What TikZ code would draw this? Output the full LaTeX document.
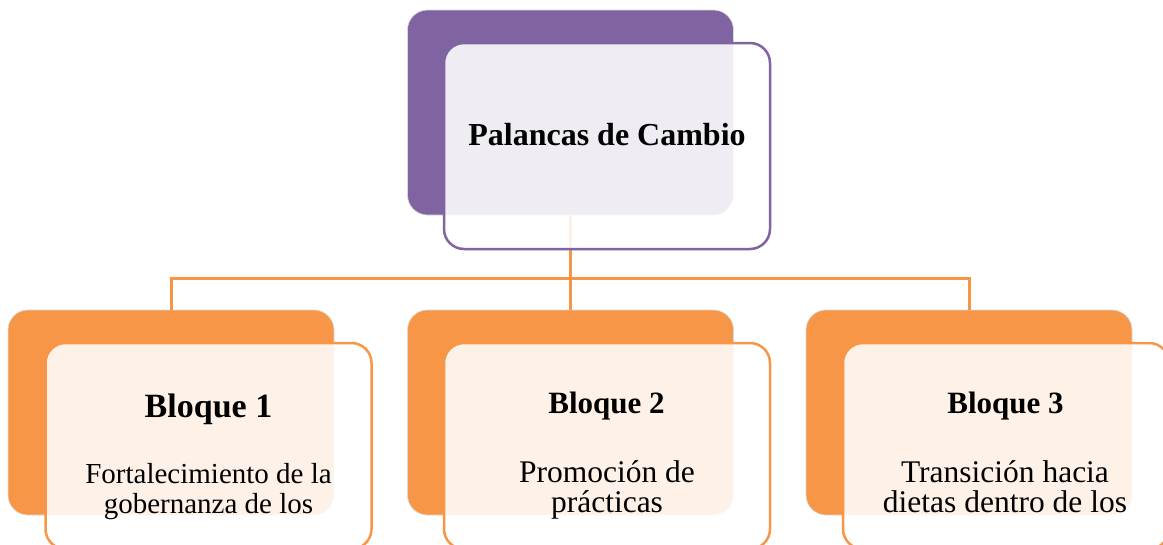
\documentclass[tikz,border=0pt]{standalone}
\usepackage{fontspec}
\setmainfont{Liberation Serif}
\usepackage{tikz}
\usetikzlibrary{positioning}
\definecolor{palpurple}{HTML}{8064A2}
\definecolor{palorange}{HTML}{F79646}
\tikzset{backbox/.style = {rounded corners = 20pt, inner sep = 0,
                           minimum width = 326pt, minimum height = 205pt,
                           draw = gray!30, line width = 0.6pt}}
\tikzset{frontbox/.style = {rounded corners = 20pt, inner sep = 0,
                            minimum width = 326pt, minimum height = 206pt,
                            fill = white, fill opacity = 0.88, line width = 2.5pt}}
\tikzset{link/.style = {palorange, line width = 3pt}}
\tikzset{headtxt/.style = {inner sep = 0, anchor = base,
                           font = \bfseries\fontsize{#1}{#1}\selectfont}}
\tikzset{bodytxt/.style = {inner sep = 0, anchor = north, align = center,
                           font = \fontsize{#1}{30}\selectfont}}

\begin{document}
\begin{tikzpicture}[x = 1pt, y = -1pt]
  \useasboundingbox (0, 0) rectangle (1163, 544);

  \node [backbox, fill = palpurple] (top) at (570.5, 112.5) {};
  \node [backbox, fill = palorange] (blk1) at (171, 412.5) {};
  \node [backbox, fill = palorange] (blk2) at (570.5, 412.5) {};
  \node [backbox, fill = palorange] (blk3) at (969, 412.5) {};

  \coordinate (hub) at (570.5, 278);
  \draw [link] (top.south) -- (hub);
  \draw [link] (hub) -| (blk1.north);
  \draw [link] (hub) -- (blk2.north);
  \draw [link] (hub) -| (blk3.north);

  \node [frontbox, draw = palpurple] (topf) at (607, 146) {};
  \node [frontbox, draw = palorange] (blk1f) at (208.5, 446) {};
  \node [frontbox, draw = palorange] (blk2f) at (607, 446) {};
  \node [frontbox, draw = palorange] (blk3f) at (1006, 446) {};

  \node [headtxt = 32] (toptxt) at (607, 145) {Palancas de Cambio};

  \node [headtxt = 34] (blk1head) at (208.5, 417) {Bloque 1};
  \node [bodytxt = 29] (blk1body) at (208.5, 463) {Fortalecimiento de la\\gobernanza de los};

  \node [headtxt = 31] (blk2head) at (606.5, 413) {Bloque 2};
  \node [bodytxt = 31.5] (blk2body) at (607, 460) {Promoción de\\prácticas};

  \node [headtxt = 31] (blk3head) at (1005.5, 413) {Bloque 3};
  \node [bodytxt = 31.5] (blk3body) at (1005, 460) {Transición hacia\\dietas dentro de los};
\end{tikzpicture}
\end{document}
